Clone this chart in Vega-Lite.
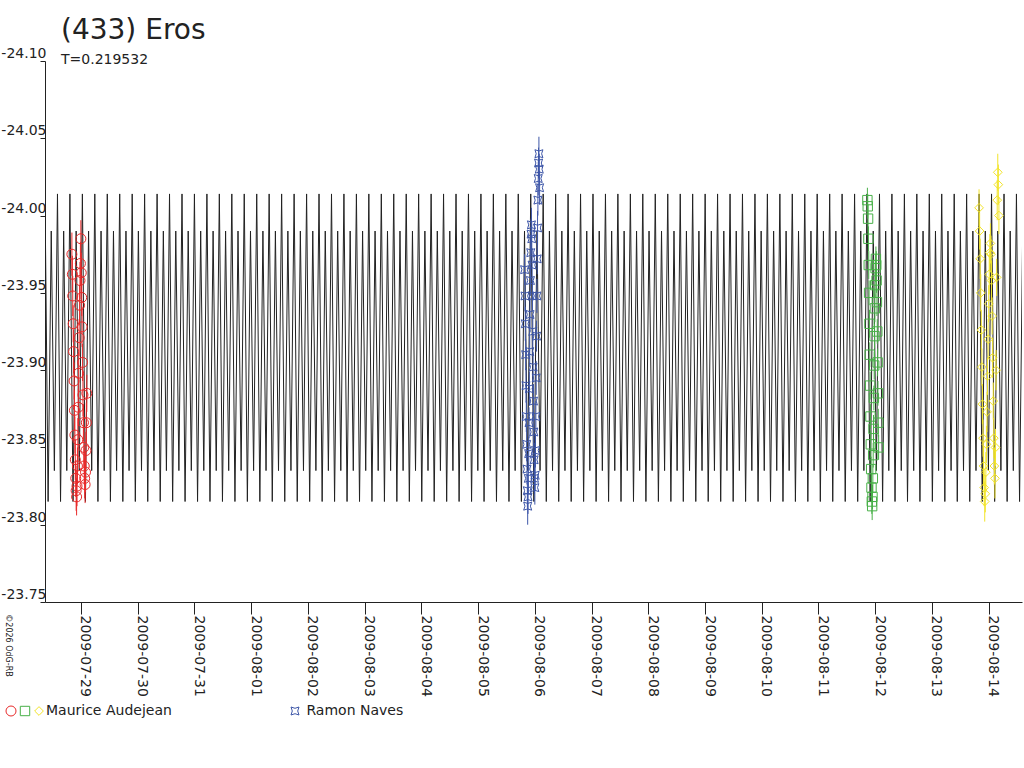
{
  "$schema": "https://vega.github.io/schema/vega-lite/v6.json",
  "width": 977,
  "height": 541,
  "autosize": {"type": "none"},
  "padding": {"left": 45, "top": 61, "right": 2, "bottom": 166},
  "background": "#ffffff",
  "title": {
    "text": "(433) Eros",
    "subtitle": "T=0.219532",
    "anchor": "start",
    "frame": "group",
    "font": "DejaVu Sans",
    "fontSize": 28,
    "fontWeight": "normal",
    "color": "#222222",
    "subtitleFont": "DejaVu Sans",
    "subtitleFontSize": 14,
    "subtitleColor": "#222222",
    "subtitlePadding": 8,
    "dx": 16,
    "offset": -20
  },
  "datasets": {
    "model": [
      {"d": -0.634, "m": -24.014}, {"d": -0.579, "m": -23.815}, {"d": -0.524, "m": -23.99}, {"d": -0.469, "m": -23.835},
      {"d": -0.414, "m": -24.014}, {"d": -0.360, "m": -23.815}, {"d": -0.305, "m": -23.99}, {"d": -0.250, "m": -23.835},
      {"d": -0.195, "m": -24.014}, {"d": -0.140, "m": -23.815}, {"d": -0.085, "m": -23.99}, {"d": -0.030, "m": -23.835},
      {"d": 0.025, "m": -24.014}, {"d": 0.079, "m": -23.815}, {"d": 0.134, "m": -23.99}, {"d": 0.189, "m": -23.835},
      {"d": 0.244, "m": -24.014}, {"d": 0.299, "m": -23.815}, {"d": 0.354, "m": -23.99}, {"d": 0.409, "m": -23.835},
      {"d": 0.464, "m": -24.014}, {"d": 0.519, "m": -23.815}, {"d": 0.573, "m": -23.99}, {"d": 0.628, "m": -23.835},
      {"d": 0.683, "m": -24.014}, {"d": 0.738, "m": -23.815}, {"d": 0.793, "m": -23.99}, {"d": 0.848, "m": -23.835},
      {"d": 0.903, "m": -24.014}, {"d": 0.958, "m": -23.815}, {"d": 1.012, "m": -23.99}, {"d": 1.067, "m": -23.835},
      {"d": 1.122, "m": -24.014}, {"d": 1.177, "m": -23.815}, {"d": 1.232, "m": -23.99}, {"d": 1.287, "m": -23.835},
      {"d": 1.342, "m": -24.014}, {"d": 1.397, "m": -23.815}, {"d": 1.452, "m": -23.99}, {"d": 1.506, "m": -23.835},
      {"d": 1.561, "m": -24.014}, {"d": 1.616, "m": -23.815}, {"d": 1.671, "m": -23.99}, {"d": 1.726, "m": -23.835},
      {"d": 1.781, "m": -24.014}, {"d": 1.835, "m": -23.815}, {"d": 1.890, "m": -23.99}, {"d": 1.945, "m": -23.835},
      {"d": 2.000, "m": -24.014}, {"d": 2.055, "m": -23.815}, {"d": 2.110, "m": -23.99}, {"d": 2.165, "m": -23.835},
      {"d": 2.220, "m": -24.014}, {"d": 2.274, "m": -23.815}, {"d": 2.329, "m": -23.99}, {"d": 2.384, "m": -23.835},
      {"d": 2.439, "m": -24.014}, {"d": 2.494, "m": -23.815}, {"d": 2.549, "m": -23.99}, {"d": 2.604, "m": -23.835},
      {"d": 2.659, "m": -24.014}, {"d": 2.714, "m": -23.815}, {"d": 2.768, "m": -23.99}, {"d": 2.823, "m": -23.835},
      {"d": 2.878, "m": -24.014}, {"d": 2.933, "m": -23.815}, {"d": 2.988, "m": -23.99}, {"d": 3.043, "m": -23.835},
      {"d": 3.098, "m": -24.014}, {"d": 3.153, "m": -23.815}, {"d": 3.207, "m": -23.99}, {"d": 3.262, "m": -23.835},
      {"d": 3.317, "m": -24.014}, {"d": 3.372, "m": -23.815}, {"d": 3.427, "m": -23.99}, {"d": 3.482, "m": -23.835},
      {"d": 3.537, "m": -24.014}, {"d": 3.592, "m": -23.815}, {"d": 3.647, "m": -23.99}, {"d": 3.701, "m": -23.835},
      {"d": 3.757, "m": -24.014}, {"d": 3.812, "m": -23.815}, {"d": 3.867, "m": -23.99}, {"d": 3.922, "m": -23.835},
      {"d": 3.977, "m": -24.014}, {"d": 4.031, "m": -23.815}, {"d": 4.086, "m": -23.99}, {"d": 4.141, "m": -23.835},
      {"d": 4.196, "m": -24.014}, {"d": 4.251, "m": -23.815}, {"d": 4.306, "m": -23.99}, {"d": 4.361, "m": -23.835},
      {"d": 4.416, "m": -24.014}, {"d": 4.470, "m": -23.815}, {"d": 4.525, "m": -23.99}, {"d": 4.580, "m": -23.835},
      {"d": 4.635, "m": -24.014}, {"d": 4.690, "m": -23.815}, {"d": 4.745, "m": -23.99}, {"d": 4.800, "m": -23.835},
      {"d": 4.855, "m": -24.014}, {"d": 4.910, "m": -23.815}, {"d": 4.964, "m": -23.99}, {"d": 5.019, "m": -23.835},
      {"d": 5.074, "m": -24.014}, {"d": 5.129, "m": -23.815}, {"d": 5.184, "m": -23.99}, {"d": 5.239, "m": -23.835},
      {"d": 5.294, "m": -24.014}, {"d": 5.349, "m": -23.815}, {"d": 5.403, "m": -23.99}, {"d": 5.458, "m": -23.835},
      {"d": 5.513, "m": -24.014}, {"d": 5.568, "m": -23.815}, {"d": 5.623, "m": -23.99}, {"d": 5.678, "m": -23.835},
      {"d": 5.733, "m": -24.014}, {"d": 5.788, "m": -23.815}, {"d": 5.843, "m": -23.99}, {"d": 5.897, "m": -23.835},
      {"d": 5.952, "m": -24.014}, {"d": 6.007, "m": -23.815}, {"d": 6.062, "m": -23.99}, {"d": 6.117, "m": -23.835},
      {"d": 6.172, "m": -24.014}, {"d": 6.226, "m": -23.815}, {"d": 6.281, "m": -23.99}, {"d": 6.336, "m": -23.835},
      {"d": 6.391, "m": -24.014}, {"d": 6.446, "m": -23.815}, {"d": 6.501, "m": -23.99}, {"d": 6.556, "m": -23.835},
      {"d": 6.611, "m": -24.014}, {"d": 6.665, "m": -23.815}, {"d": 6.720, "m": -23.99}, {"d": 6.775, "m": -23.835},
      {"d": 6.830, "m": -24.014}, {"d": 6.885, "m": -23.815}, {"d": 6.940, "m": -23.99}, {"d": 6.995, "m": -23.835},
      {"d": 7.050, "m": -24.014}, {"d": 7.105, "m": -23.815}, {"d": 7.159, "m": -23.99}, {"d": 7.214, "m": -23.835},
      {"d": 7.269, "m": -24.014}, {"d": 7.324, "m": -23.815}, {"d": 7.379, "m": -23.99}, {"d": 7.434, "m": -23.835},
      {"d": 7.489, "m": -24.014}, {"d": 7.544, "m": -23.815}, {"d": 7.598, "m": -23.99}, {"d": 7.653, "m": -23.835},
      {"d": 7.708, "m": -24.014}, {"d": 7.763, "m": -23.815}, {"d": 7.818, "m": -23.99}, {"d": 7.873, "m": -23.835},
      {"d": 7.928, "m": -24.014}, {"d": 7.983, "m": -23.815}, {"d": 8.038, "m": -23.99}, {"d": 8.092, "m": -23.835},
      {"d": 8.147, "m": -24.014}, {"d": 8.202, "m": -23.815}, {"d": 8.257, "m": -23.99}, {"d": 8.312, "m": -23.835},
      {"d": 8.367, "m": -24.014}, {"d": 8.421, "m": -23.815}, {"d": 8.476, "m": -23.99}, {"d": 8.531, "m": -23.835},
      {"d": 8.586, "m": -24.014}, {"d": 8.641, "m": -23.815}, {"d": 8.696, "m": -23.99}, {"d": 8.751, "m": -23.835},
      {"d": 8.806, "m": -24.014}, {"d": 8.860, "m": -23.815}, {"d": 8.915, "m": -23.99}, {"d": 8.970, "m": -23.835},
      {"d": 9.025, "m": -24.014}, {"d": 9.080, "m": -23.815}, {"d": 9.135, "m": -23.99}, {"d": 9.190, "m": -23.835},
      {"d": 9.245, "m": -24.014}, {"d": 9.300, "m": -23.815}, {"d": 9.354, "m": -23.99}, {"d": 9.409, "m": -23.835},
      {"d": 9.464, "m": -24.014}, {"d": 9.519, "m": -23.815}, {"d": 9.574, "m": -23.99}, {"d": 9.629, "m": -23.835},
      {"d": 9.684, "m": -24.014}, {"d": 9.739, "m": -23.815}, {"d": 9.793, "m": -23.99}, {"d": 9.848, "m": -23.835},
      {"d": 9.903, "m": -24.014}, {"d": 9.958, "m": -23.815}, {"d": 10.013, "m": -23.99}, {"d": 10.068, "m": -23.835},
      {"d": 10.123, "m": -24.014}, {"d": 10.178, "m": -23.815}, {"d": 10.233, "m": -23.99}, {"d": 10.287, "m": -23.835},
      {"d": 10.343, "m": -24.014}, {"d": 10.398, "m": -23.815}, {"d": 10.453, "m": -23.99}, {"d": 10.508, "m": -23.835},
      {"d": 10.563, "m": -24.014}, {"d": 10.617, "m": -23.815}, {"d": 10.672, "m": -23.99}, {"d": 10.727, "m": -23.835},
      {"d": 10.782, "m": -24.014}, {"d": 10.837, "m": -23.815}, {"d": 10.892, "m": -23.99}, {"d": 10.947, "m": -23.835},
      {"d": 11.002, "m": -24.014}, {"d": 11.056, "m": -23.815}, {"d": 11.111, "m": -23.99}, {"d": 11.166, "m": -23.835},
      {"d": 11.221, "m": -24.014}, {"d": 11.276, "m": -23.815}, {"d": 11.331, "m": -23.99}, {"d": 11.386, "m": -23.835},
      {"d": 11.441, "m": -24.014}, {"d": 11.496, "m": -23.815}, {"d": 11.550, "m": -23.99}, {"d": 11.605, "m": -23.835},
      {"d": 11.660, "m": -24.014}, {"d": 11.715, "m": -23.815}, {"d": 11.770, "m": -23.99}, {"d": 11.825, "m": -23.835},
      {"d": 11.880, "m": -24.014}, {"d": 11.935, "m": -23.815}, {"d": 11.989, "m": -23.99}, {"d": 12.044, "m": -23.835},
      {"d": 12.099, "m": -24.014}, {"d": 12.154, "m": -23.815}, {"d": 12.209, "m": -23.99}, {"d": 12.264, "m": -23.835},
      {"d": 12.319, "m": -24.014}, {"d": 12.374, "m": -23.815}, {"d": 12.429, "m": -23.99}, {"d": 12.483, "m": -23.835},
      {"d": 12.538, "m": -24.014}, {"d": 12.593, "m": -23.815}, {"d": 12.648, "m": -23.99}, {"d": 12.703, "m": -23.835},
      {"d": 12.758, "m": -24.014}, {"d": 12.812, "m": -23.815}, {"d": 12.867, "m": -23.99}, {"d": 12.922, "m": -23.835},
      {"d": 12.977, "m": -24.014}, {"d": 13.032, "m": -23.815}, {"d": 13.087, "m": -23.99}, {"d": 13.142, "m": -23.835},
      {"d": 13.197, "m": -24.014}, {"d": 13.251, "m": -23.815}, {"d": 13.306, "m": -23.99}, {"d": 13.361, "m": -23.835},
      {"d": 13.416, "m": -24.014}, {"d": 13.471, "m": -23.815}, {"d": 13.526, "m": -23.99}, {"d": 13.581, "m": -23.835},
      {"d": 13.636, "m": -24.014}, {"d": 13.691, "m": -23.815}, {"d": 13.745, "m": -23.99}, {"d": 13.800, "m": -23.835},
      {"d": 13.855, "m": -24.014}, {"d": 13.910, "m": -23.815}, {"d": 13.965, "m": -23.99}, {"d": 14.020, "m": -23.835},
      {"d": 14.075, "m": -24.014}, {"d": 14.130, "m": -23.815}, {"d": 14.184, "m": -23.99}, {"d": 14.239, "m": -23.835},
      {"d": 14.294, "m": -24.014}, {"d": 14.349, "m": -23.815}, {"d": 14.404, "m": -23.99}, {"d": 14.459, "m": -23.835},
      {"d": 14.514, "m": -24.014}, {"d": 14.569, "m": -23.815}, {"d": 14.624, "m": -23.99}, {"d": 14.678, "m": -23.835},
      {"d": 14.733, "m": -24.014}, {"d": 14.788, "m": -23.815}, {"d": 14.843, "m": -23.99}, {"d": 14.898, "m": -23.835},
      {"d": 14.953, "m": -24.014}, {"d": 15.007, "m": -23.815}, {"d": 15.062, "m": -23.99}, {"d": 15.117, "m": -23.835},
      {"d": 15.172, "m": -24.014}, {"d": 15.227, "m": -23.815}, {"d": 15.282, "m": -23.99}, {"d": 15.337, "m": -23.835},
      {"d": 15.392, "m": -24.014}, {"d": 15.446, "m": -23.815}, {"d": 15.501, "m": -23.99}, {"d": 15.556, "m": -23.835},
      {"d": 15.611, "m": -24.014}, {"d": 15.666, "m": -23.815}, {"d": 15.721, "m": -23.99}, {"d": 15.776, "m": -23.835},
      {"d": 15.831, "m": -24.014}, {"d": 15.886, "m": -23.815}, {"d": 15.940, "m": -23.99}, {"d": 15.995, "m": -23.835},
      {"d": 16.050, "m": -24.014}, {"d": 16.105, "m": -23.815}, {"d": 16.160, "m": -23.99}, {"d": 16.215, "m": -23.835},
      {"d": 16.270, "m": -24.014}, {"d": 16.325, "m": -23.815}, {"d": 16.379, "m": -23.99}, {"d": 16.434, "m": -23.835},
      {"d": 16.489, "m": -24.014}, {"d": 16.544, "m": -23.815}, {"d": 16.599, "m": -23.99}
    ],
    "obs": [
      {"s": "s1", "d": -0.160, "m": -23.975, "e": 0.014},
      {"s": "s1", "d": -0.152, "m": -23.962, "e": 0.012},
      {"s": "s1", "d": -0.145, "m": -23.948, "e": 0.013},
      {"s": "s1", "d": -0.137, "m": -23.930, "e": 0.012},
      {"s": "s1", "d": -0.130, "m": -23.912, "e": 0.014},
      {"s": "s1", "d": -0.122, "m": -23.893, "e": 0.012},
      {"s": "s1", "d": -0.115, "m": -23.874, "e": 0.013},
      {"s": "s1", "d": -0.107, "m": -23.858, "e": 0.012},
      {"s": "s1", "d": -0.100, "m": -23.842, "e": 0.013},
      {"s": "s1", "d": -0.092, "m": -23.830, "e": 0.012},
      {"s": "s1", "d": -0.085, "m": -23.822, "e": 0.013},
      {"s": "s1", "d": -0.077, "m": -23.818, "e": 0.012},
      {"s": "s1", "d": -0.070, "m": -23.825, "e": 0.013},
      {"s": "s1", "d": -0.062, "m": -23.838, "e": 0.012},
      {"s": "s1", "d": -0.055, "m": -23.855, "e": 0.014},
      {"s": "s1", "d": -0.047, "m": -23.876, "e": 0.012},
      {"s": "s1", "d": -0.040, "m": -23.898, "e": 0.013},
      {"s": "s1", "d": -0.032, "m": -23.921, "e": 0.012},
      {"s": "s1", "d": -0.025, "m": -23.942, "e": 0.013},
      {"s": "s1", "d": -0.017, "m": -23.958, "e": 0.012},
      {"s": "s1", "d": -0.010, "m": -23.969, "e": 0.014},
      {"s": "s1", "d": -0.002, "m": -23.985, "e": 0.012},
      {"s": "s1", "d": 0.005, "m": -23.963, "e": 0.013},
      {"s": "s1", "d": 0.013, "m": -23.947, "e": 0.012},
      {"s": "s1", "d": 0.020, "m": -23.928, "e": 0.013},
      {"s": "s1", "d": 0.028, "m": -23.905, "e": 0.012},
      {"s": "s1", "d": 0.035, "m": -23.884, "e": 0.014},
      {"s": "s1", "d": 0.043, "m": -23.866, "e": 0.012},
      {"s": "s1", "d": 0.050, "m": -23.850, "e": 0.013},
      {"s": "s1", "d": 0.058, "m": -23.838, "e": 0.012},
      {"s": "s1", "d": 0.065, "m": -23.830, "e": 0.013},
      {"s": "s1", "d": 0.073, "m": -23.826, "e": 0.012},
      {"s": "s1", "d": 0.080, "m": -23.834, "e": 0.013},
      {"s": "s1", "d": 0.088, "m": -23.848, "e": 0.012},
      {"s": "s1", "d": 0.095, "m": -23.866, "e": 0.013},
      {"s": "s1", "d": 0.103, "m": -23.885, "e": 0.012},
      {"s": "nv", "d": 7.820, "m": -23.965, "e": 0.010},
      {"s": "nv", "d": 7.826, "m": -23.948, "e": 0.010},
      {"s": "nv", "d": 7.832, "m": -23.930, "e": 0.011},
      {"s": "nv", "d": 7.838, "m": -23.910, "e": 0.010},
      {"s": "nv", "d": 7.844, "m": -23.890, "e": 0.011},
      {"s": "nv", "d": 7.850, "m": -23.870, "e": 0.010},
      {"s": "nv", "d": 7.856, "m": -23.852, "e": 0.011},
      {"s": "nv", "d": 7.862, "m": -23.836, "e": 0.010},
      {"s": "nv", "d": 7.868, "m": -23.822, "e": 0.011},
      {"s": "nv", "d": 7.874, "m": -23.812, "e": 0.012},
      {"s": "nv", "d": 7.880, "m": -23.818, "e": 0.011},
      {"s": "nv", "d": 7.886, "m": -23.830, "e": 0.010},
      {"s": "nv", "d": 7.892, "m": -23.846, "e": 0.011},
      {"s": "nv", "d": 7.898, "m": -23.866, "e": 0.010},
      {"s": "nv", "d": 7.904, "m": -23.888, "e": 0.011},
      {"s": "nv", "d": 7.910, "m": -23.912, "e": 0.010},
      {"s": "nv", "d": 7.916, "m": -23.936, "e": 0.011},
      {"s": "nv", "d": 7.922, "m": -23.958, "e": 0.010},
      {"s": "nv", "d": 7.928, "m": -23.976, "e": 0.011},
      {"s": "nv", "d": 7.934, "m": -23.988, "e": 0.010},
      {"s": "nv", "d": 7.940, "m": -23.994, "e": 0.011},
      {"s": "nv", "d": 7.946, "m": -23.985, "e": 0.010},
      {"s": "nv", "d": 7.952, "m": -23.968, "e": 0.011},
      {"s": "nv", "d": 7.958, "m": -23.948, "e": 0.010},
      {"s": "nv", "d": 7.964, "m": -23.925, "e": 0.011},
      {"s": "nv", "d": 7.970, "m": -23.902, "e": 0.010},
      {"s": "nv", "d": 7.976, "m": -23.880, "e": 0.011},
      {"s": "nv", "d": 7.982, "m": -23.860, "e": 0.010},
      {"s": "nv", "d": 7.988, "m": -23.842, "e": 0.011},
      {"s": "nv", "d": 7.994, "m": -23.830, "e": 0.010},
      {"s": "nv", "d": 8.000, "m": -23.824, "e": 0.011},
      {"s": "nv", "d": 8.006, "m": -23.832, "e": 0.010},
      {"s": "nv", "d": 8.012, "m": -23.848, "e": 0.011},
      {"s": "nv", "d": 8.018, "m": -23.870, "e": 0.010},
      {"s": "nv", "d": 8.024, "m": -23.895, "e": 0.011},
      {"s": "nv", "d": 8.030, "m": -23.922, "e": 0.010},
      {"s": "nv", "d": 8.036, "m": -23.948, "e": 0.011},
      {"s": "nv", "d": 8.042, "m": -23.972, "e": 0.010},
      {"s": "nv", "d": 8.048, "m": -23.992, "e": 0.011},
      {"s": "nv", "d": 8.054, "m": -24.010, "e": 0.010},
      {"s": "nv", "d": 8.060, "m": -24.024, "e": 0.011},
      {"s": "nv", "d": 8.066, "m": -24.034, "e": 0.010},
      {"s": "nv", "d": 8.072, "m": -24.040, "e": 0.011},
      {"s": "nv", "d": 8.078, "m": -24.030, "e": 0.010},
      {"s": "nv", "d": 8.084, "m": -24.018, "e": 0.011},
      {"s": "s2", "d": 13.862, "m": -24.010, "e": 0.008},
      {"s": "s2", "d": 13.868, "m": -24.006, "e": 0.008},
      {"s": "s2", "d": 13.874, "m": -23.998, "e": 0.009},
      {"s": "s2", "d": 13.880, "m": -23.985, "e": 0.008},
      {"s": "s2", "d": 13.886, "m": -23.968, "e": 0.009},
      {"s": "s2", "d": 13.892, "m": -23.950, "e": 0.008},
      {"s": "s2", "d": 13.898, "m": -23.930, "e": 0.009},
      {"s": "s2", "d": 13.904, "m": -23.910, "e": 0.008},
      {"s": "s2", "d": 13.910, "m": -23.890, "e": 0.009},
      {"s": "s2", "d": 13.916, "m": -23.870, "e": 0.008},
      {"s": "s2", "d": 13.922, "m": -23.852, "e": 0.009},
      {"s": "s2", "d": 13.928, "m": -23.836, "e": 0.008},
      {"s": "s2", "d": 13.934, "m": -23.824, "e": 0.009},
      {"s": "s2", "d": 13.940, "m": -23.815, "e": 0.008},
      {"s": "s2", "d": 13.946, "m": -23.812, "e": 0.009},
      {"s": "s2", "d": 13.952, "m": -23.818, "e": 0.008},
      {"s": "s2", "d": 13.958, "m": -23.830, "e": 0.009},
      {"s": "s2", "d": 13.964, "m": -23.845, "e": 0.008},
      {"s": "s2", "d": 13.970, "m": -23.862, "e": 0.009},
      {"s": "s2", "d": 13.976, "m": -23.882, "e": 0.008},
      {"s": "s2", "d": 13.982, "m": -23.903, "e": 0.009},
      {"s": "s2", "d": 13.988, "m": -23.922, "e": 0.008},
      {"s": "s2", "d": 13.994, "m": -23.940, "e": 0.009},
      {"s": "s2", "d": 14.000, "m": -23.955, "e": 0.008},
      {"s": "s2", "d": 14.006, "m": -23.966, "e": 0.009},
      {"s": "s2", "d": 14.012, "m": -23.972, "e": 0.008},
      {"s": "s2", "d": 14.018, "m": -23.968, "e": 0.009},
      {"s": "s2", "d": 14.024, "m": -23.958, "e": 0.008},
      {"s": "s2", "d": 14.030, "m": -23.944, "e": 0.009},
      {"s": "s2", "d": 14.036, "m": -23.925, "e": 0.008},
      {"s": "s2", "d": 14.042, "m": -23.905, "e": 0.009},
      {"s": "s2", "d": 14.048, "m": -23.885, "e": 0.008},
      {"s": "s2", "d": 14.054, "m": -23.866, "e": 0.009},
      {"s": "s2", "d": 14.060, "m": -23.850, "e": 0.008},
      {"s": "s3", "d": 15.830, "m": -24.005, "e": 0.012},
      {"s": "s3", "d": 15.840, "m": -23.990, "e": 0.012},
      {"s": "s3", "d": 15.850, "m": -23.972, "e": 0.013},
      {"s": "s3", "d": 15.860, "m": -23.950, "e": 0.012},
      {"s": "s3", "d": 15.870, "m": -23.926, "e": 0.013},
      {"s": "s3", "d": 15.880, "m": -23.902, "e": 0.012},
      {"s": "s3", "d": 15.890, "m": -23.878, "e": 0.013},
      {"s": "s3", "d": 15.900, "m": -23.856, "e": 0.012},
      {"s": "s3", "d": 15.910, "m": -23.838, "e": 0.013},
      {"s": "s3", "d": 15.920, "m": -23.824, "e": 0.012},
      {"s": "s3", "d": 15.930, "m": -23.815, "e": 0.013},
      {"s": "s3", "d": 15.940, "m": -23.820, "e": 0.012},
      {"s": "s3", "d": 15.950, "m": -23.834, "e": 0.013},
      {"s": "s3", "d": 15.960, "m": -23.852, "e": 0.012},
      {"s": "s3", "d": 15.970, "m": -23.873, "e": 0.013},
      {"s": "s3", "d": 15.980, "m": -23.896, "e": 0.012},
      {"s": "s3", "d": 15.990, "m": -23.920, "e": 0.013},
      {"s": "s3", "d": 16.000, "m": -23.943, "e": 0.012},
      {"s": "s3", "d": 16.010, "m": -23.962, "e": 0.013},
      {"s": "s3", "d": 16.020, "m": -23.976, "e": 0.012},
      {"s": "s3", "d": 16.030, "m": -23.982, "e": 0.013},
      {"s": "s3", "d": 16.040, "m": -23.975, "e": 0.012},
      {"s": "s3", "d": 16.050, "m": -23.958, "e": 0.013},
      {"s": "s3", "d": 16.060, "m": -23.935, "e": 0.012},
      {"s": "s3", "d": 16.070, "m": -23.908, "e": 0.013},
      {"s": "s3", "d": 16.080, "m": -23.880, "e": 0.012},
      {"s": "s3", "d": 16.090, "m": -23.856, "e": 0.013},
      {"s": "s3", "d": 16.100, "m": -23.838, "e": 0.012},
      {"s": "s3", "d": 16.110, "m": -23.830, "e": 0.013},
      {"s": "s3", "d": 16.120, "m": -23.850, "e": 0.012},
      {"s": "s3", "d": 16.130, "m": -23.900, "e": 0.013},
      {"s": "s3", "d": 16.140, "m": -23.960, "e": 0.012},
      {"s": "s3", "d": 16.150, "m": -24.010, "e": 0.013},
      {"s": "s3", "d": 16.160, "m": -24.028, "e": 0.012},
      {"s": "s3", "d": 16.170, "m": -24.020, "e": 0.013},
      {"s": "s3", "d": 16.180, "m": -24.000, "e": 0.012}
    ]
  },
  "encoding": {
    "x": {
      "field": "d",
      "type": "quantitative",
      "scale": {"domain": [-0.634, 16.587], "nice": false, "zero": false},
      "axis": {
        "title": null,
        "values": [0, 1, 2, 3, 4, 5, 6, 7, 8, 9, 10, 11, 12, 13, 14, 15, 16],
        "labelExpr": "utcFormat(datum.value * 86400000 + utc(2009, 6, 29), '%Y-%m-%d')",
        "labelAngle": 90,
        "labelAlign": "left",
        "labelBaseline": "alphabetic",
        "labelFontSize": 14,
        "labelPadding": 1,
        "tickSize": 12,
        "labelFlush": false,
        "labelOverlap": false,
        "labelBound": false
      }
    },
    "y": {
      "field": "m",
      "type": "quantitative",
      "scale": {"domain": [-24.1, -23.75], "nice": false, "zero": false, "reverse": true},
      "axis": {
        "title": "©2026 OdG-RB",
        "titleAngle": 90,
        "titleFontSize": 8,
        "titleFontWeight": "normal",
        "titleAlign": "center",
        "titleBaseline": "middle",
        "titleX": -38,
        "titleY": 584,
        "values": [-24.1, -24.05, -24.0, -23.95, -23.9, -23.85, -23.8, -23.75],
        "labelExpr": "replace(format(datum.value, '.2f'), '\u2212', '-')",
        "labelAlign": "right",
        "labelBaseline": "alphabetic",
        "labelFontSize": 14,
        "labelPadding": -6,
        "labelOffset": -3.5,
        "tickSize": 5,
        "labelFlush": false,
        "labelOverlap": false,
        "labelBound": false
      }
    },
    "color": {
      "field": "s",
      "type": "nominal",
      "scale": {"domain": ["s1", "s2", "s3", "nv"], "range": ["#e82a2a", "#48b048", "#f2e42a", "#3d56a8"]},
      "legend": {
        "orient": "none",
        "legendX": -41,
        "legendY": 643,
        "direction": "horizontal",
        "title": null,
        "labelExpr": "datum.value == 's3' ? 'Maurice Audejean\u00a0\u00a0\u00a0\u00a0\u00a0\u00a0\u00a0\u00a0\u00a0\u00a0\u00a0\u00a0\u00a0\u00a0\u00a0\u00a0\u00a0\u00a0\u00a0\u00a0\u00a0\u00a0\u00a0\u00a0\u00a0\u00a0\u200b' : datum.value == 'nv' ? '\u200b\u00a0Ramon Naves' : ''",
        "labelFontSize": 14,
        "labelColor": "#222222",
        "symbolSize": 70,
        "symbolStrokeWidth": 1,
        "symbolFillColor": "transparent",
        "labelOffset": 0,
        "columnPadding": 0,
        "labelLimit": 400
      }
    }
  },
  "layer": [
    {
      "data": {"name": "model"},
      "mark": {"type": "line", "color": "#222222", "strokeWidth": 1, "clip": true},
      "encoding": {"color": {"value": "#222222"}}
    },
    {
      "data": {"name": "obs"},
      "mark": {"type": "point", "filled": false, "strokeWidth": 1, "opacity": 1},
      "encoding": {
        "shape": {
          "field": "s",
          "type": "nominal",
          "scale": {"domain": ["s1", "s2", "s3", "nv"], "range": ["circle", "square", "diamond", "M-1,-1Q0,-0.35 1,-1Q0.35,0 1,1Q0,0.35 -1,1Q-0.35,0 -1,-1Z"]}
        },
        "size": {
          "field": "s",
          "type": "nominal",
          "scale": {"domain": ["s1", "s2", "s3", "nv"], "range": [100, 64, 100, 49]},
          "legend": null
        }
      }
    },
    {
      "data": {"name": "obs"},
      "mark": {"type": "errorbar", "thickness": 1},
      "encoding": {
        "yError": {"field": "e"}
      }
    }
  ],
  "config": {
    "font": "DejaVu Sans",
    "view": {"stroke": null},
    "axis": {
      "grid": false,
      "domainColor": "#222222",
      "tickColor": "#222222",
      "labelColor": "#222222",
      "titleColor": "#222222",
      "labelFont": "DejaVu Sans",
      "titleFont": "DejaVu Sans"
    },
    "legend": {"labelFont": "DejaVu Sans"}
  }
}
